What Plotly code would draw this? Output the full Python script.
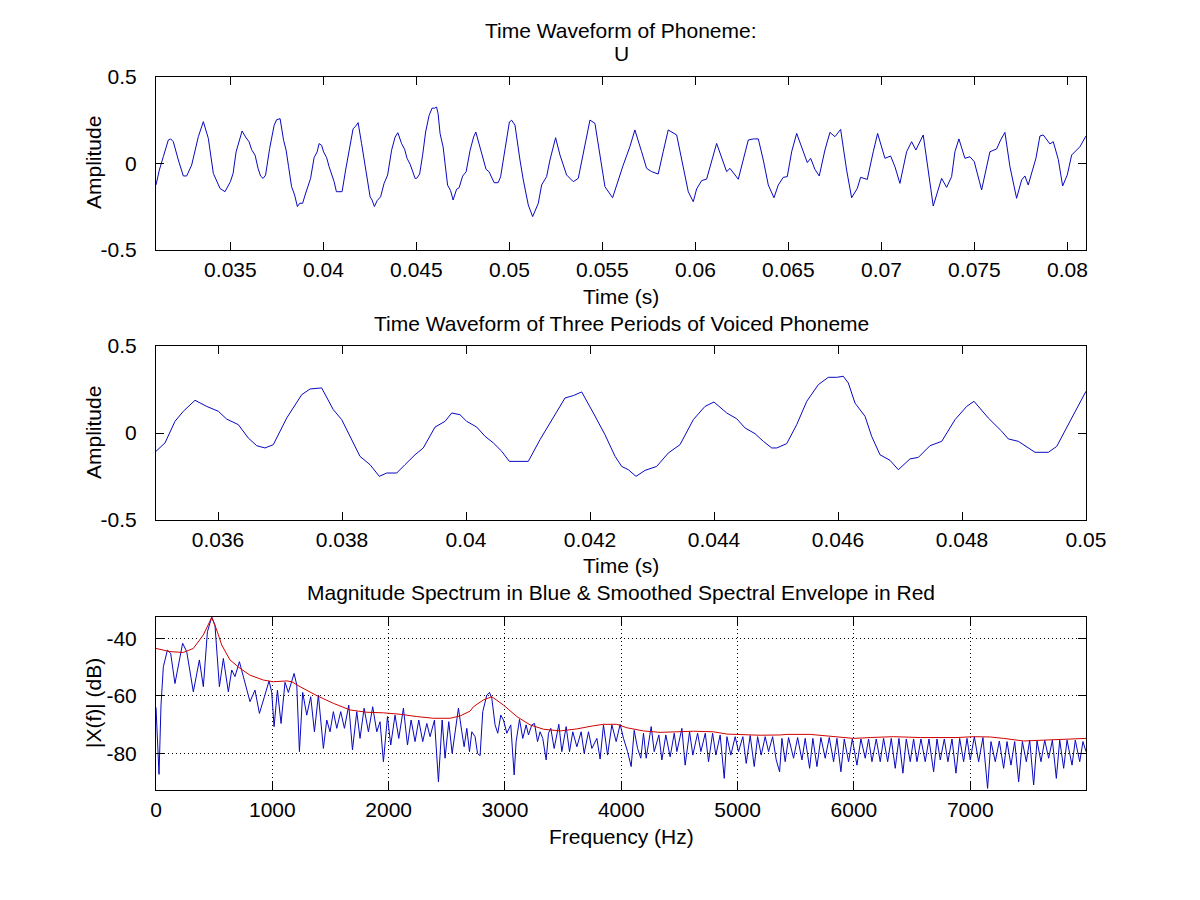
import plotly.graph_objects as go

# waveform of the phoneme (time in s, amplitude)
time_s = [
    0.031000, 0.031179, 0.031394, 0.031663, 0.031788, 0.031930, 0.032201, 0.032469,
    0.032650, 0.032918, 0.033276, 0.033545, 0.033814, 0.034083, 0.034441, 0.034710,
    0.035000, 0.035145, 0.035306, 0.035441, 0.035629, 0.035817, 0.036005, 0.036140,
    0.036328, 0.036489, 0.036624, 0.036758, 0.036892, 0.037108, 0.037350, 0.037484,
    0.037672, 0.037860, 0.037995, 0.038129, 0.038290, 0.038452, 0.038602, 0.038721,
    0.038882, 0.039016, 0.039178, 0.039311, 0.039500, 0.039662, 0.039770, 0.039903,
    0.040011, 0.040173, 0.040307, 0.040441, 0.040576, 0.040699, 0.041005, 0.041194,
    0.041382, 0.041597, 0.041731, 0.041866, 0.042054, 0.042242, 0.042404, 0.042511,
    0.042618, 0.042742, 0.042887, 0.043076, 0.043263, 0.043452, 0.043667, 0.043855,
    0.044000, 0.044205, 0.044366, 0.044500, 0.044662, 0.044796, 0.044931, 0.045012,
    0.045173, 0.045334, 0.045496, 0.045683, 0.045844, 0.045979, 0.046086, 0.046167,
    0.046274, 0.046436, 0.046543, 0.046677, 0.046839, 0.046973, 0.047161, 0.047296,
    0.047484, 0.047673, 0.047888, 0.048076, 0.048194, 0.048425, 0.048640, 0.048747,
    0.048909, 0.049178, 0.049393, 0.049528, 0.049770, 0.050000, 0.050121, 0.050300,
    0.050569, 0.050747, 0.051016, 0.051251, 0.051553, 0.051733, 0.052000, 0.052180,
    0.052484, 0.052719, 0.053075, 0.053434, 0.053703, 0.054061, 0.054330, 0.054599,
    0.054868, 0.055137, 0.055548, 0.055763, 0.056120, 0.056478, 0.056747, 0.057108,
    0.057376, 0.057645, 0.058000, 0.058269, 0.058538, 0.058993, 0.059259, 0.059617,
    0.059886, 0.060066, 0.060335, 0.060604, 0.061141, 0.061410, 0.061679, 0.061858,
    0.062306, 0.062844, 0.063113, 0.063382, 0.063650, 0.063919, 0.064224, 0.064457,
    0.064725, 0.064940, 0.065175, 0.065444, 0.065800, 0.066016, 0.066196, 0.066427,
    0.066659, 0.066965, 0.067234, 0.067503, 0.067808, 0.068130, 0.068399, 0.068702,
    0.068881, 0.069239, 0.069562, 0.069796, 0.070190, 0.070496, 0.070727, 0.070996,
    0.071355, 0.071624, 0.071855, 0.072249, 0.072787, 0.073237, 0.073506, 0.073775,
    0.073953, 0.074168, 0.074490, 0.074759, 0.074991, 0.075388, 0.075834, 0.076194,
    0.076410, 0.076641, 0.076910, 0.077270, 0.077539, 0.077716, 0.077894, 0.078308,
    0.078523, 0.078702, 0.079062, 0.079240, 0.079509, 0.079745, 0.079993, 0.080229,
    0.080675, 0.081000,
]
amplitude = [
    -0.124, -0.038, 0.040, 0.136, 0.142, 0.126, 0.020, -0.072,
    -0.072, -0.009, 0.155, 0.242, 0.145, -0.057, -0.144, -0.163,
    -0.105, -0.057, 0.067, 0.125, 0.188, 0.153, 0.125, 0.080,
    0.048, -0.029, -0.073, -0.086, -0.067, 0.086, 0.220, 0.253,
    0.259, 0.134, 0.077, -0.019, -0.134, -0.182, -0.249, -0.230,
    -0.230, -0.182, -0.125, -0.086, 0.034, 0.067, 0.115, 0.105,
    0.067, 0.034, -0.019, -0.057, -0.105, -0.163, -0.163, -0.038,
    0.077, 0.201, 0.215, 0.236, 0.115, -0.010, -0.134, -0.192,
    -0.211, -0.249, -0.215, -0.192, -0.115, -0.067, 0.077, 0.153,
    0.178, 0.115, 0.082, 0.029, -0.004, -0.048, -0.086, -0.086,
    -0.061, 0.048, 0.182, 0.278, 0.320, 0.320, 0.326, 0.287,
    0.172, 0.096, -0.019, -0.125, -0.157, -0.211, -0.149, -0.140,
    -0.073, -0.048, 0.077, 0.153, 0.182, 0.086, 0.010, -0.034,
    -0.048, -0.111, -0.111, -0.077, 0.086, 0.240, 0.250, 0.222,
    0.020, -0.095, -0.240, -0.307, -0.230, -0.124, -0.076, 0.020,
    0.149, 0.049, -0.066, -0.105, -0.086, 0.107, 0.251, 0.232,
    0.049, -0.134, -0.198, -0.124, -0.009, 0.097, 0.194, 0.068,
    -0.028, -0.047, -0.061, 0.068, 0.194, 0.165, 0.020, -0.163,
    -0.221, -0.147, -0.099, -0.090, 0.116, 0.030, -0.047, -0.028,
    -0.091, 0.136, 0.142, 0.142, 0.020, -0.124, -0.198, -0.124,
    -0.080, -0.076, 0.068, 0.174, 0.068, 0.005, 0.030, -0.034,
    -0.072, 0.078, 0.180, 0.155, 0.197, -0.038, -0.198, -0.144,
    -0.080, -0.092, 0.068, 0.174, 0.030, 0.043, -0.018, -0.115,
    0.068, 0.126, 0.078, 0.165, -0.246, -0.086, -0.138, -0.076,
    0.068, 0.142, 0.030, 0.039, 0.011, -0.153, 0.068, 0.084,
    0.136, 0.180, -0.018, -0.201, -0.095, -0.072, -0.124, 0.030,
    0.159, 0.165, 0.113, 0.126, 0.024, -0.130, -0.066, 0.049,
    0.097, 0.159,
]

# magnitude spectrum (blue), frequency in Hz and level in dB
freq_hz = [
    0, 26, 43, 63, 98, 126, 163, 229, 264, 321, 373, 407, 442, 479, 507, 545,
    579, 622, 651, 679, 717, 757, 808, 851, 889, 932, 972, 995, 1015, 1044, 1075, 1109,
    1138, 1187, 1210, 1233, 1261, 1296, 1330, 1362, 1396, 1439, 1468, 1496, 1525, 1554,
    1588, 1620, 1657, 1689, 1726, 1754, 1789, 1826, 1863, 1898, 1926, 1955, 1990, 2018,
    2055, 2087, 2127, 2162, 2193, 2227, 2259, 2293, 2328, 2356, 2394, 2428, 2460, 2485,
    2517, 2546, 2600, 2629, 2649, 2672, 2695, 2715, 2743, 2764, 2786, 2809, 2844, 2867,
    2887, 2915, 2938, 2964, 2987, 3016, 3050, 3079, 3096, 3125, 3153, 3182, 3202, 3231,
    3254, 3280, 3302, 3325, 3354, 3374, 3394, 3423, 3463, 3489, 3526, 3555, 3583, 3618,
    3655, 3681, 3718, 3747, 3790, 3818, 3847, 3882, 3919, 3956, 3990, 4019, 4054, 4085,
    4111, 4140, 4168, 4191, 4214, 4257, 4283, 4323, 4349, 4383, 4420, 4455, 4478, 4521,
    4549, 4587, 4615, 4656, 4684, 4722, 4750, 4785, 4813, 4850, 4885, 4908, 4942, 4979,
    5008, 5045, 5074, 5108, 5143, 5172, 5203, 5237, 5266, 5301, 5332, 5361, 5381, 5409,
    5438, 5481, 5516, 5553, 5581, 5619, 5647, 5682, 5716, 5753, 5788, 5825, 5854, 5888,
    5917, 5954, 5986, 6026, 6060, 6097, 6126, 6155, 6192, 6226, 6255, 6290, 6321, 6355,
    6387, 6421, 6450, 6484, 6513, 6542, 6576, 6613, 6645, 6685, 6714, 6742, 6777, 6808,
    6843, 6877, 6909, 6943, 6972, 7000, 7035, 7072, 7109, 7149, 7178, 7215, 7250, 7287,
    7316, 7350, 7382, 7416, 7448, 7482, 7511, 7545, 7574, 7608, 7640, 7674, 7706, 7740,
    7769, 7803, 7832, 7875, 7903, 7941, 7969, 7995,
]
mag_db = [
    -64.0, -87.3, -63.2, -49.9, -44.1, -45.2, -55.7, -41.7, -44.6, -58.6, -47.5, -56.8, -37.7, -32.6, -35.4, -56.8,
    -47.0, -58.6, -51.0, -53.3, -48.1, -54.5, -62.0, -58.0, -66.1, -60.3, -54.8, -58.8, -70.7, -58.0, -69.6, -55.3,
    -58.8, -52.2, -56.2, -79.4, -58.8, -66.7, -60.3, -72.5, -59.7, -78.3, -68.4, -72.5, -65.5, -71.3,
    -65.5, -71.3, -63.2, -78.8, -65.5, -74.8, -64.3, -72.5, -63.8, -72.5, -69.0, -82.9, -67.2, -77.1,
    -66.7, -74.8, -64.3, -77.1, -68.4, -75.9, -68.4, -75.9, -69.6, -74.2, -68.4, -89.9, -68.4, -81.7,
    -69.0, -80.0, -64.3, -72.5, -77.7, -71.3, -79.4, -72.5, -74.2, -80.0, -80.8, -65.5, -59.7, -58.8,
    -60.9, -70.1, -73.0, -66.7, -68.4, -73.0, -70.1, -87.5, -75.9, -68.2, -74.8, -70.1, -73.6, -70.1,
    -69.6, -75.9, -72.5, -74.8, -82.3, -73.0, -71.3, -78.3, -69.9, -79.4, -70.7, -79.4, -72.5, -77.7,
    -72.5, -80.0, -72.5, -78.3, -74.8, -82.0, -70.1, -80.6, -70.1, -75.9, -69.9, -74.8, -79.4, -84.6,
    -72.0, -78.3, -81.7, -73.0, -81.7, -70.7, -79.4, -73.6, -82.3, -73.6, -81.2, -73.0, -79.4, -71.3,
    -84.1, -72.5, -80.6, -73.0, -79.4, -73.0, -82.9, -73.0, -80.6, -73.6, -88.7, -74.2, -80.6, -74.2,
    -79.4, -74.2, -83.5, -73.8, -84.6, -74.2, -80.6, -74.2, -79.4, -74.2, -82.3, -86.4, -74.8, -82.9,
    -74.5, -81.7, -74.5, -82.3, -74.8, -85.2, -74.8, -84.6, -74.5, -81.7, -74.5, -82.9, -74.8, -86.4,
    -75.0, -82.9, -75.0, -84.1, -75.0, -81.7, -75.0, -82.9, -75.0, -82.9, -74.8, -82.9, -74.8, -85.2,
    -74.8, -86.9, -75.0, -82.9, -75.0, -82.9, -75.0, -82.9, -75.0, -86.4, -75.0, -82.3, -75.0, -82.9,
    -75.0, -86.9, -74.8, -82.9, -74.8, -82.3, -74.2, -82.9, -74.5, -92.2, -75.9, -82.9, -75.7, -85.2,
    -75.9, -84.1, -75.9, -89.9, -75.9, -82.9, -75.4, -91.0, -75.7, -82.9, -75.4, -81.7, -75.4, -88.7,
    -75.4, -85.2, -75.4, -84.1, -75.4, -82.9, -75.9, -79.4,
]

# smoothed spectral envelope (red)
env_freq_hz = [
    0, 120, 235, 321, 407, 479, 522, 565, 636, 722, 808, 923, 1009, 1124, 1167, 1238,
    1382, 1525, 1668, 1812, 1955, 2098, 2242, 2385, 2528, 2614, 2700, 2729, 2815, 2887,
    2987, 3102, 3216, 3331, 3474, 3618, 3761, 3847, 3962, 4048, 4191, 4334, 4621, 4793,
    4908, 5194, 5366, 5424, 5624, 5854, 5997, 6140, 6341, 6570, 6886, 7029, 7172, 7287,
    7459, 7631, 7774, 7995,
]
env_db = [
    -43.5, -44.6, -44.9, -43.5, -38.8, -32.7, -37.1, -42.3, -47.5, -50.4, -52.8, -54.5, -55.1, -54.8, -55.1, -56.8,
    -59.9, -62.6, -64.9, -65.7, -65.9, -66.4, -67.2, -67.8, -67.8, -67.0, -65.3, -63.8, -61.4, -60.3,
    -63.2, -67.2, -70.1, -71.6, -72.2, -71.5, -70.4, -69.9, -69.9, -71.1, -72.2, -72.7, -72.3, -72.5,
    -73.3, -73.7, -73.6, -73.4, -73.4, -74.3, -74.8, -74.5, -74.2, -74.5, -74.5, -74.2, -74.3, -74.8,
    -75.7, -75.4, -75.1, -74.8,
]

# tick values and labels
wave_ticks = [0.035, 0.04, 0.045, 0.05, 0.055, 0.06, 0.065, 0.07, 0.075, 0.08]
wave_labels = ["0.035", "0.04", "0.045", "0.05", "0.055", "0.06", "0.065", "0.07", "0.075", "0.08"]
zoom_ticks = [0.036, 0.038, 0.04, 0.042, 0.044, 0.046, 0.048, 0.05]
zoom_labels = ["0.036", "0.038", "0.04", "0.042", "0.044", "0.046", "0.048", "0.05"]
amp_ticks = [-0.5, 0, 0.5]
amp_labels = ["-0.5", "0", "0.5"]
freq_ticks = [0, 1000, 2000, 3000, 4000, 5000, 6000, 7000]
db_ticks = [-80, -60, -40]
db_labels = ["-80", "-60", "-40"]

FONT = "Liberation Sans, Arial, sans-serif"
SIZE = 21
BLUE = "#0808c0"
RED = "#d00000"
OFF = 8  # the page sits 8px in from the window edge


def px_x(px):
    return (px - OFF) / 1200


def px_y(py):
    return 1 - (py - OFF) / 900


fig = go.Figure()
fig.add_trace(go.Scatter(x=time_s, y=amplitude, mode="lines", line=dict(color=BLUE, width=1),
                         xaxis="x", yaxis="y"))
fig.add_trace(go.Scatter(x=time_s, y=amplitude, mode="lines", line=dict(color=BLUE, width=1),
                         xaxis="x2", yaxis="y2"))
fig.add_trace(go.Scatter(x=freq_hz, y=mag_db, mode="lines", line=dict(color=BLUE, width=1),
                         xaxis="x3", yaxis="y3"))
fig.add_trace(go.Scatter(x=env_freq_hz, y=env_db, mode="lines", line=dict(color=RED, width=1),
                         xaxis="x3", yaxis="y3"))

ax = dict(showline=True, linecolor="black", linewidth=1, mirror="ticks", ticks="inside",
          ticklen=8, tickcolor="black", showgrid=False, zeroline=False, automargin=False,
          tickfont=dict(family=FONT, size=SIZE, color="black"))
xdom = [px_x(156), px_x(1086)]

fig.update_layout(
    width=1200, height=900, showlegend=False, autosize=False,
    paper_bgcolor="white", plot_bgcolor="white",
    margin=dict(l=0, r=0, t=0, b=0, pad=0, autoexpand=False),
    font=dict(family=FONT, size=SIZE, color="black"),
    xaxis=dict(ax, domain=xdom, anchor="y", range=[0.031, 0.081],
               tickvals=wave_ticks, ticktext=wave_labels, ticklabelstandoff=1),
    yaxis=dict(ax, domain=[px_y(250), px_y(77)], anchor="x", range=[-0.5, 0.5],
               tickvals=amp_ticks, ticktext=amp_labels, ticklabelstandoff=14),
    xaxis2=dict(ax, domain=xdom, anchor="y2", range=[0.035, 0.05],
                tickvals=zoom_ticks, ticktext=zoom_labels, ticklabelstandoff=1),
    yaxis2=dict(ax, domain=[px_y(520), px_y(346)], anchor="x2", range=[-0.5, 0.5],
                tickvals=amp_ticks, ticktext=amp_labels, ticklabelstandoff=14),
    xaxis3=dict(ax, domain=xdom, anchor="y3", range=[0, 7995], tickvals=freq_ticks,
                showgrid=True, gridcolor="black", gridwidth=1, griddash="1px,3px",
                ticklabelstandoff=1),
    yaxis3=dict(ax, domain=[px_y(790), px_y(616.7)], anchor="x3", range=[-92.75, -32.46],
                tickvals=db_ticks, ticktext=db_labels, showgrid=True, gridcolor="black",
                gridwidth=1, griddash="1px,3px", ticklabelstandoff=14),
)

# titles and axis labels, placed at reference pixel positions
texts = [
    ("Time Waveform of Phoneme:", 621, 30, 0),
    ("U", 621, 53, 0),
    ("Time (s)", 621, 296, 0),
    ("Time Waveform of Three Periods of Voiced Phoneme", 621, 323, 0),
    ("Time (s)", 621, 565, 0),
    ("Magnitude Spectrum in Blue & Smoothed Spectral Envelope in Red", 621, 592, 0),
    ("Frequency (Hz)", 621, 836, 0),
    ("Amplitude", 93, 163, -90),
    ("Amplitude", 93, 433, -90),
    ("|X(f)| (dB)", 93, 703, -90),
]
for text, x, y, angle in texts:
    fig.add_annotation(text=text, x=px_x(x), y=px_y(y), xref="paper", yref="paper",
                       xanchor="center", yanchor="middle", showarrow=False, textangle=angle,
                       font=dict(family=FONT, size=SIZE, color="black"))

fig.write_html("out.html")
